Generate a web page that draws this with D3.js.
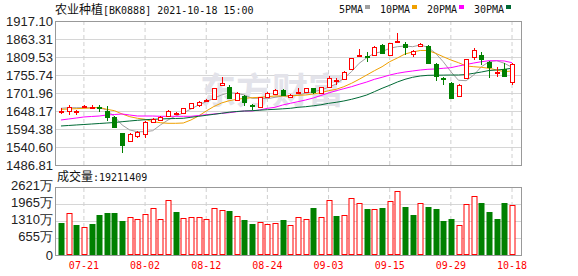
<!DOCTYPE html>
<html>
<head>
<meta charset="utf-8">
<script src="https://cdn.jsdelivr.net/npm/d3@7"></script>
<style>
  body { margin: 0; background: #fff; }
</style>
</head>
<body>
<div id="graph-container"></div>
<script>
// Dati
const dates = ["07-16","07-19","07-20","07-21","07-22","07-23","07-26","07-27","07-28","07-29","07-30",
  "08-02","08-03","08-04","08-05","08-06","08-09","08-10","08-11","08-12","08-13","08-16","08-17","08-18",
  "08-19","08-20","08-23","08-24","08-25","08-26","08-27","08-30","08-31","09-01","09-02","09-03","09-06",
  "09-07","09-08","09-09","09-10","09-13","09-14","09-15","09-16","09-17","09-22","09-23","09-24","09-27",
  "09-28","09-29","09-30","10-08","10-11","10-12","10-13","10-14","10-15","10-18"];

const opens  = [1645,1649,1645,1662,1657,1659,1649,1631,1581,1559,1574,1580,1616,1621,1633,1640,1643,1656,1666,1680,
  1683,1725,1721,1681,1693,1667,1661,1691,1699,1711,1691,1704,1706,1716,1703,1719,1740,1743,1773,1812,
  1812,1815,1845,1815,1856,1848,1818,1842,1842,1788,1747,1733,1694,1748,1810,1815,1795,1764,1773,1736];
const highs  = [1656,1666,1651,1666,1666,1666,1663,1632,1583,1582,1587,1618,1626,1633,1650,1645,1658,1673,1679,1683,
  1718,1751,1726,1705,1695,1668,1691,1705,1713,1713,1698,1716,1718,1718,1721,1754,1746,1768,1808,1832,
  1825,1842,1847,1852,1880,1855,1830,1850,1845,1793,1751,1735,1729,1805,1835,1825,1797,1779,1793,1791];
const lows   = [1639,1635,1637,1658,1655,1646,1618,1598,1524,1557,1567,1566,1614,1619,1631,1638,1641,1654,1661,1679,
  1682,1724,1684,1679,1663,1651,1659,1689,1697,1694,1689,1703,1704,1698,1698,1717,1726,1741,1771,1811,
  1796,1813,1819,1813,1855,1815,1810,1840,1790,1739,1726,1686,1692,1746,1800,1786,1746,1751,1752,1726];
const closes = [1649,1661,1649,1664,1659,1656,1631,1600,1547,1580,1585,1616,1623,1631,1648,1642,1656,1671,1674,1682,
  1716,1733,1686,1703,1676,1665,1689,1703,1711,1695,1696,1706,1716,1704,1719,1746,1742,1766,1806,1815,
  1809,1840,1821,1850,1858,1838,1828,1847,1792,1753,1744,1688,1726,1803,1830,1803,1779,1766,1754,1789];
const prevClose = 1652; // chiusura del giorno prima del primo

// volume in 万
const volumes = [1245,1619,1156,1067,1194,1541,1619,1619,1310,1452,1375,1567,1800,1375,2107,1657,1414,1452,1452,1375,
  1800,1722,1695,1491,1348,1194,1271,1194,1233,1348,1156,1452,1375,1800,1452,2107,1503,1541,2184,1991,
  1772,1760,1811,2068,2454,1849,1541,1991,1849,1772,1310,1375,1143,1965,2261,2004,1657,1387,2004,1921];

const ma5  = [1656.2,1658.0,1658.0,1658.0,1658.0,1658.0,1651.2,1631.1,1606.3,1591.4,1586.3,1586.3,1589.3,1606.3,1621.3,
  1633.2,1642.2,1654.1,1666.1,1676.0,1686.1,1696.0,1702.9,1701.1,1696.0,1686.1,1686.1,1684.9,1689.1,1693.0,
  1693.0,1696.0,1701.1,1705.9,1710.9,1719.0,1728.9,1745.9,1765.6,1790.7,1807.4,1820.6,1825.4,1835.5,1840.3,
  1842.4,1840.3,1845.4,1838.5,1820.6,1795.5,1765.6,1740.0,1738.7,1755.8,1780.5,1795.5,1798.5,1790.7,1778.7];
const ma10 = [1653.2,1654.1,1655.1,1656.2,1657.1,1659.2,1653.2,1649.1,1639.2,1631.2,1626.4,1623.4,1616.2,1613.2,1611.4,
  1611.4,1612.3,1621.3,1633.2,1648.2,1661.6,1672.1,1678.9,1683.1,1686.1,1687.9,1689.1,1690.9,1693.0,1693.0,
  1693.0,1695.1,1696.0,1699.0,1702.9,1708.8,1713.0,1720.8,1730.9,1742.9,1755.8,1768.6,1780.5,1795.5,1806.5,
  1818.5,1824.5,1829.0,1829.0,1820.6,1810.4,1800.6,1792.5,1782.6,1780.5,1778.7,1775.8,1770.6,1765.6,1767.7];
const ma20 = [1621.3,1624.3,1627.2,1630.3,1631.8,1633.2,1636.2,1637.7,1639.2,1636.2,1633.2,1633.2,1633.2,1632.3,1632.3,
  1632.3,1632.3,1632.3,1634.7,1637.1,1639.2,1641.3,1643.1,1646.1,1648.2,1648.2,1651.2,1656.2,1659.2,1666.1,
  1671.2,1676.0,1681.0,1687.0,1694.5,1702.0,1708.8,1714.8,1720.8,1728.0,1734.8,1742.9,1748.9,1755.7,1760.8,
  1764.7,1767.7,1770.7,1772.8,1773.7,1775.8,1777.6,1782.6,1787.1,1791.6,1795.5,1798.5,1798.5,1797.6,1792.5];
const ma30 = [1603.4,1604.9,1606.4,1607.8,1609.3,1610.8,1612.3,1613.8,1616.2,1618.3,1620.4,1622.2,1623.4,1624.3,1625.2,
  1625.8,1626.4,1629.4,1632.3,1635.3,1638.3,1641.3,1644.6,1646.7,1648.2,1649.1,1650.6,1652.1,1653.2,1654.7,
  1656.2,1659.2,1661.0,1663.7,1666.7,1671.2,1674.2,1678.1,1683.1,1689.1,1696.0,1705.9,1716.0,1725.0,1734.8,
  1742.9,1748.9,1752.8,1754.8,1755.1,1755.4,1755.7,1755.7,1757.2,1760.8,1764.7,1769.2,1770.7,1772.8,1775.8];

const maNames = ["5PMA", "10PMA", "20PMA", "30PMA"];
const maColors = ["#a0a0a0", "#f0a000", "#ff00ff", "#006a35"];

const priceTicks = [1486.81, 1540.60, 1594.38, 1648.17, 1701.96, 1755.74, 1809.53, 1863.31, 1917.10];
const volTicks = [0, 655, 1310, 1965, 2621];
const xTicks = ["07-21", "08-02", "08-12", "08-24", "09-03", "09-15", "09-29", "10-18"];
const lastVolume = "19211409";

// Dimensioni
var width = 578;
var height = 276;
var left = 55, right = 521;
var priceTop = 21, priceBottom = 165;
var volTop = 187, volBottom = 255;
var RED = "#ff0000", GREEN = "#008000";
var monoFont = "'DejaVu Sans Mono', monospace";
var cjkFont = "'Noto Sans CJK SC', sans-serif";

var svg = d3.select("#graph-container").append("svg")
  .attr("width", width)
  .attr("height", height)
  .style("display", "block")
  .style("font-family", "'Liberation Sans', Arial, sans-serif");

// Scale
var x = d3.scaleBand().domain(dates).range([56, 517]).padding(0.3);
var y = d3.scaleLinear().domain([priceTicks[0], priceTicks[priceTicks.length - 1]]).range([priceBottom, priceTop]);
var yVol = d3.scaleLinear().domain([0, volTicks[volTicks.length - 1]]).range([volBottom, volTop]);
var cx = d => Math.round(x(d) + x.bandwidth() / 2);

// Griglia orizzontale prezzi + etichette
var gy = svg.append("g")
  .attr("transform", `translate(${left},0)`)
  .call(d3.axisLeft(y).tickValues(priceTicks).tickSize(-(right - left)).tickPadding(2)
    .tickFormat(d => d.toFixed(2)));
gy.select(".domain").remove();
gy.selectAll("line").attr("stroke", "#d6d6d6");
gy.selectAll("text").attr("fill", "#222").style("font-size", "13px").style("font-family", "'Liberation Sans', Arial, sans-serif");

// Griglia orizzontale volume + etichette
var gv = svg.append("g")
  .attr("transform", `translate(${left},0)`)
  .call(d3.axisLeft(yVol).tickValues(volTicks).tickSize(-(right - left)).tickPadding(2)
    .tickFormat(d => d === 0 ? "0" : d + "万"));
gv.select(".domain").remove();
gv.selectAll("line").attr("stroke", "#d6d6d6");
gv.selectAll("text").attr("fill", "#222").attr("y", -2).style("font-size", "13px").style("font-family", "'Liberation Sans', Arial, sans-serif");
gv.selectAll(".tick").filter(d => d === 0).select("text").attr("y", 0);

// Griglia verticale tratteggiata
var gxp = svg.append("g")
  .attr("transform", `translate(0,${priceBottom})`)
  .call(d3.axisBottom(x).tickValues(xTicks).tickSize(-(priceBottom - priceTop)).tickFormat(""));
gxp.select(".domain").remove();
gxp.selectAll("line").attr("stroke", "#cfcfcf").attr("stroke-dasharray", "4,3");

var gxv = svg.append("g")
  .attr("transform", `translate(0,${volBottom})`)
  .call(d3.axisBottom(x).tickValues(xTicks).tickSize(-(volBottom - volTop)).tickPadding(7));
gxv.select(".domain").remove();
gxv.selectAll("line").attr("stroke", "#cfcfcf").attr("stroke-dasharray", "4,3");
gxv.selectAll("text").attr("fill", RED).style("font-size", "10px").style("font-family", monoFont);

// Filigrana
svg.append("text")
  .attr("x", 272).attr("y", 104)
  .attr("text-anchor", "middle")
  .attr("fill", "#e3e3ea")
  .style("font-family", cjkFont)
  .style("font-weight", "bold")
  .style("font-size", "36px")
  .text("东方财富");

// Medie mobili
var line = d3.line()
  .x((d, i) => x(dates[i]) + x.bandwidth() / 2)
  .y(d => y(d));
[ma5, ma10, ma20, ma30].forEach((ma, k) => {
  svg.append("path")
    .datum(ma)
    .attr("d", line)
    .attr("fill", "none")
    .attr("stroke", maColors[k])
    .attr("stroke-width", 1);
});

// Candele
var candles = dates.map((d, i) => ({ d: d, o: opens[i], h: highs[i], l: lows[i], c: closes[i] }));
var gc = svg.append("g");
candles.forEach(k => {
  var up = k.c >= k.o;
  var col = up ? RED : GREEN;
  var xc = cx(k.d) + 0.5;
  gc.append("line")
    .attr("x1", xc).attr("x2", xc)
    .attr("y1", Math.round(y(k.h))).attr("y2", Math.round(y(k.l)))
    .attr("stroke", col);
  var top = Math.round(y(Math.max(k.o, k.c)));
  var bot = Math.round(y(Math.min(k.o, k.c)));
  gc.append("rect")
    .attr("x", xc - 2).attr("width", 4)
    .attr("y", top + 0.5).attr("height", Math.max(bot - top, 1))
    .attr("fill", up ? "#fff" : GREEN)
    .attr("stroke", col);
});

// Barre del volume
var gb = svg.append("g");
volumes.forEach((v, i) => {
  var before = i === 0 ? prevClose : closes[i - 1];
  var up = closes[i] >= before;
  var col = up ? RED : GREEN;
  var xc = cx(dates[i]) + 0.5;
  var top = Math.round(yVol(v));
  gb.append("rect")
    .attr("x", xc - 2.5).attr("width", 5)
    .attr("y", top + 0.5).attr("height", volBottom - top - 1)
    .attr("fill", up ? "#fff" : col)
    .attr("stroke", col);
});

// Bordi
svg.append("rect")
  .attr("x", left + 0.5).attr("y", priceTop + 0.5)
  .attr("width", right - left).attr("height", priceBottom - priceTop)
  .attr("fill", "none").attr("stroke", "#999");
svg.append("rect")
  .attr("x", left + 0.5).attr("y", volTop + 0.5)
  .attr("width", right - left).attr("height", volBottom - volTop)
  .attr("fill", "none").attr("stroke", "#999");

// Titolo
var title = svg.append("text").attr("x", 55).attr("y", 13.5).attr("fill", "#111");
title.append("tspan").style("font-family", cjkFont).style("font-size", "12px").text("农业种植");
title.append("tspan").style("font-family", monoFont).style("font-size", "10px").text("[BK0888] 2021-10-18 15:00");

// Legenda
var lx = 339;
maNames.forEach((name, k) => {
  svg.append("text")
    .attr("x", lx).attr("y", 12.5)
    .attr("fill", "#111")
    .style("font-family", monoFont).style("font-size", "10px")
    .text(name);
  var sx = lx + name.length * 6 + 2;
  svg.append("rect")
    .attr("x", sx).attr("y", 5)
    .attr("width", 5).attr("height", 4)
    .attr("fill", maColors[k]);
  lx = sx + 15;
});

// Etichetta volume
var vt = svg.append("text").attr("x", 57).attr("y", 181).attr("fill", "#111");
vt.append("tspan").style("font-family", cjkFont).style("font-size", "12px").text("成交量");
vt.append("tspan").style("font-family", monoFont).style("font-size", "10px").text(":" + lastVolume);
</script>
</body>
</html>
